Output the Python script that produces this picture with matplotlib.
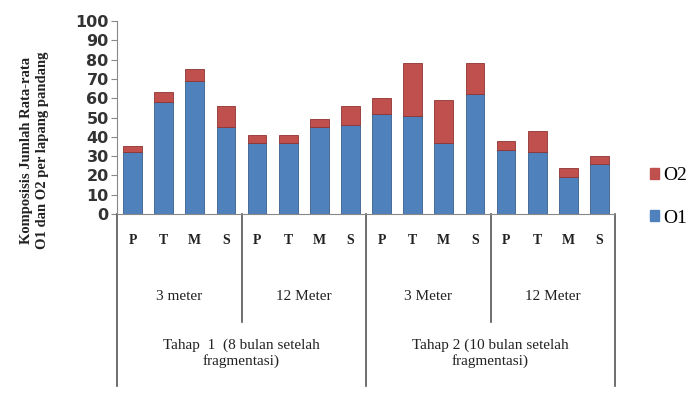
import matplotlib
matplotlib.use("Agg")
import matplotlib.pyplot as plt
from matplotlib.patches import Patch
from matplotlib.lines import Line2D
from matplotlib.transforms import blended_transform_factory

# data
bars = ["P", "T", "M", "S"] * 4
o1 = [32, 58, 69, 45, 37, 37, 45, 46, 52, 51, 37, 62, 33, 32, 19, 26]
o2 = [3, 5, 6, 11, 4, 4, 4, 10, 8, 27, 22, 16, 5, 11, 5, 4]
jarak = ["3 meter", "12 Meter", "3 Meter", "12 Meter"]
tahap = ["Tahap  1  (8 bulan setelah\nfragmentasi)", "Tahap 2 (10 bulan setelah\nfragmentasi)"]

BLUE, RED = "#4F81BD", "#C0504D"
SERIF = ["Liberation Serif", "DejaVu Serif"]

fig = plt.figure(figsize=(6.9, 3.96), dpi=100)
W, H = 690, 396
ax = fig.add_axes([117/W, 1-214/H, (615-117)/W, (214-21)/H])

x = range(len(bars))
ax.bar(x, o1, width=0.6, color=BLUE, edgecolor="#3a5f8c", linewidth=0.6)
ax.bar(x, o2, bottom=o1, width=0.6, color=RED, edgecolor="#8e3431", linewidth=0.6)

ax.set_xlim(-0.5, len(bars)-0.5)
ax.set_ylim(0, 100)
ax.set_yticks(range(0, 101, 10))
ax.tick_params(axis="y", labelsize=11.5, length=4, color="#888", pad=2)
for t in ax.get_yticklabels():
    t.set_fontweight("bold"); t.set_color("#333")
ax.set_xticks([])
for s in ["top", "right"]:
    ax.spines[s].set_visible(False)
for s in ["left", "bottom"]:
    ax.spines[s].set_color("#888")

# multi-level category axis
tr = blended_transform_factory(ax.transData, fig.transFigure)
fy = lambda py: 1 - py/H
for i, b in enumerate(bars):
    ax.text(i, fy(241), b, transform=tr, ha="center", va="center",
            fontsize=10, fontweight="bold", family=SERIF, color="#222")
for g, lab in enumerate(jarak):
    ax.text(g*4 + 1.5, fy(297), lab, transform=tr, ha="center", va="center",
            fontsize=11, family=SERIF, color="#222")
for g, lab in enumerate(tahap):
    ax.text(g*8 + 3.5, fy(353), lab, transform=tr, ha="center", va="center",
            fontsize=11, family=SERIF, color="#222", linespacing=1.15)
for xs, ybot in [(-0.5, 386), (3.5, 322), (7.5, 386), (11.5, 322), (15.5, 386)]:
    ax.add_line(Line2D([xs, xs], [fy(214), fy(ybot)], transform=tr, color="#555",
                       lw=1.2, clip_on=False))

fig.text(35/W, 1-150/H, "Komposisis Jumlah Rata-rata\nO1 dan O2 per lapang pandang",
         rotation=90, ha="center", va="center", fontsize=10.5, fontweight="bold",
         family=SERIF, color="#222", linespacing=1.3)

fig.legend(handles=[Patch(color=RED, label="O2"), Patch(color=BLUE, label="O1")],
           loc="center left", bbox_to_anchor=(640/W, 1-197/H), frameon=False,
           labelspacing=1.3, handlelength=0.5, handleheight=0.5, handletextpad=0.2,
           borderpad=0, prop={"family": SERIF, "size": 14})

fig.savefig("out.png", dpi=100)
